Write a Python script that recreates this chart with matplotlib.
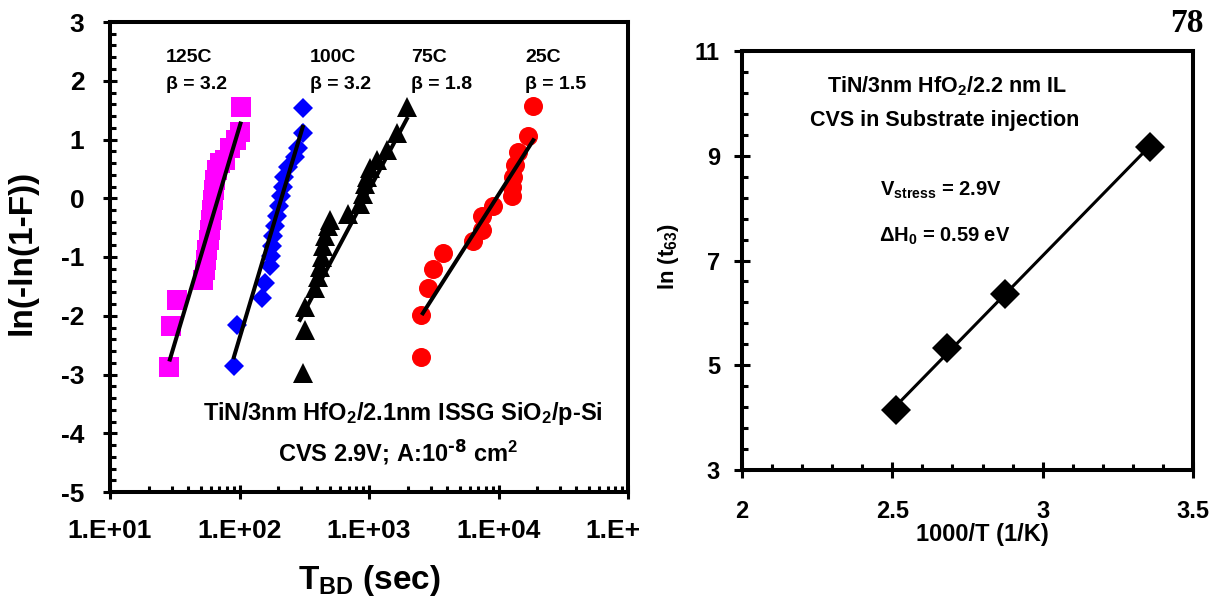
import numpy as np
import matplotlib
matplotlib.use("Agg")
import matplotlib.pyplot as plt
from matplotlib.ticker import FixedLocator, FixedFormatter, LogLocator, MultipleLocator, NullFormatter
from matplotlib.transforms import Bbox

plt.rcParams['font.family'] = ['Liberation Sans', 'DejaVu Sans']
plt.rcParams['font.weight'] = 'bold'
plt.rcParams['axes.labelweight'] = 'bold'
plt.rcParams['axes.unicode_minus'] = False
plt.rcParams['mathtext.default'] = 'regular'

# ---------------- Weibull data: time to breakdown (s) vs ln(-ln(1-F)) ----------------
t_125 = [28.6, 29.4, 33.1, 52.6, 54.2, 55.1, 56.4, 57.8, 59.2, 60.3, 61.3, 62.8,
         63.6, 65.0, 67.4, 70.7, 77.3, 84.5, 94.0, 100.9, 102.7]
w_125 = [-2.88, -2.17, -1.73, -1.39, -1.22, -1.05, -0.88, -0.71, -0.54, -0.37, -0.20, -0.03,
         0.14, 0.31, 0.48, 0.60, 0.65, 0.85, 0.99, 1.13, 1.56]

t_100 = [90.8, 96.2, 148, 157, 172, 175, 177.5, 182.5, 188, 194, 203, 210, 215, 222,
         238, 268, 285, 311, 312]
w_100 = [-2.86, -2.15, -1.70, -1.45, -1.16, -0.99, -0.82, -0.65, -0.48, -0.31, -0.14, 0.03,
         0.20, 0.37, 0.54, 0.71, 0.85, 1.11, 1.53]

t_75 = [311, 321, 322, 383, 406, 419, 432, 444, 457, 485, 500, 692, 853, 904, 931, 960,
        1018, 1146, 1371, 1637, 1954]
w_75 = [-2.98, -2.24, -1.85, -1.53, -1.34, -1.17, -1.00, -0.82, -0.65, -0.48, -0.37, -0.26,
        -0.09, 0.08, 0.25, 0.37, 0.51, 0.65, 0.82, 1.11, 1.56]

t_25 = [2506, 2520, 2871, 3141, 3750, 6383, 7413, 7500, 9120, 12650, 12700, 13000, 13400,
        14230, 17020, 18580]
w_25 = [-2.70, -1.98, -1.53, -1.21, -0.94, -0.73, -0.54, -0.31, -0.14, 0.03, 0.20, 0.37,
        0.57, 0.79, 1.06, 1.57]

temps = ["125C", "100C", "75C", "25C"]
betas = [3.2, 3.2, 1.8, 1.5]
ln_eta = [4.225, 5.35, 6.83, 9.17]          # ln of characteristic life of each fit line
fit_t_start = [28.7, 89.5, 288, 2553]
fit_t_end = [102.8, 311, 1995, 18920]

# ---------------- Arrhenius data ----------------
inv_T = [2.512, 2.683, 2.875, 3.356]        # 1000/T (1/K)
ln_t63 = [4.14, 5.33, 6.36, 9.16]

W, H = 1225, 599
fig = plt.figure(figsize=(W / 100, H / 100), dpi=100)


def px_axes(x0, y0, x1, y1):
    return fig.add_axes([x0 / W, 1 - y1 / H, (x1 - x0) / W, (y1 - y0) / H])


axL = px_axes(110, 22, 628, 492)
axR = px_axes(742, 51, 1193, 470)

# ---------------- left panel ----------------
series = [
    (t_125, w_125, 's', '#FF00FF', 14),
    (t_100, w_100, 'D', '#0000FF', 10.5),
    (t_75, w_75, '^', 'black', 15),
    (t_25, w_25, 'o', '#FF0000', 13.7),
]
for (t, w, mk, col, ms) in series:
    axL.plot(t, w, linestyle='none', marker=mk, color=col, markersize=ms,
             markeredgewidth=0, zorder=3)

for b, le, ts, te in zip(betas, ln_eta, fit_t_start, fit_t_end):
    tt = np.array([ts, te])
    axL.plot(tt, b * (np.log(tt) - le), color='black', linewidth=2.9,
             solid_capstyle='butt', zorder=4)

axL.set_xscale('log')
axL.set_xlim(10, 1e5)
axL.set_ylim(-5, 3)
axL.xaxis.set_major_locator(FixedLocator([1e1, 1e2, 1e3, 1e4, 1e5]))
axL.xaxis.set_major_formatter(FixedFormatter(["1.E+01", "1.E+02", "1.E+03", "1.E+04", "1.E+05"]))
axL.xaxis.set_minor_locator(LogLocator(base=10, subs=np.arange(2, 10), numticks=20))
axL.xaxis.set_minor_formatter(NullFormatter())
axL.yaxis.set_major_locator(MultipleLocator(1))
axL.yaxis.set_minor_locator(MultipleLocator(0.2))
axL.tick_params(which='major', direction='inout', length=10, width=2.2, labelsize=19)
axL.tick_params(axis='y', which='major', pad=13.5)
axL.tick_params(axis='x', which='major', pad=14.5)
axL.tick_params(which='minor', direction='in', length=4, width=2.2)
for s in axL.spines.values():
    s.set_linewidth(2.9)

# the last decade label runs off the panel edge
last_lbl = axL.xaxis.get_major_ticks()[-1].label1
last_lbl.set_clip_on(True)
last_lbl.set_clip_box(Bbox([[0, 0], [639, H]]))

axL.set_ylabel("ln(-ln(1-F))", fontsize=24, va='center')
axL.yaxis.set_label_coords(-0.17, 0.51)
axL.set_xlabel("T$_{BD}$ (sec)", fontsize=24, va='center')
axL.xaxis.set_label_coords(0.5, -0.189)

lbl_t = [27.1, 350, 2110, 16000]
for name, b, tx in zip(temps, betas, lbl_t):
    axL.text(tx, 2.40, name, fontsize=14, ha='left', va='center')
    axL.text(tx, 1.94, "β = %.1f" % b, fontsize=14, ha='left', va='center')

axL.text(0.566, 0.168, "TiN/3nm HfO$_2$/2.1nm ISSG SiO$_2$/p-Si", transform=axL.transAxes,
         fontsize=17, ha='center', va='center')
axL.text(0.556, 0.085, r"CVS 2.9V; A:10$^{\text{-8}}$ cm$^2$", transform=axL.transAxes,
         fontsize=17, ha='center', va='center')

# ---------------- right panel ----------------
slope, icpt = np.polyfit(inv_T, ln_t63, 1)
xl = np.array([inv_T[0], inv_T[-1]])
axR.plot(xl, slope * xl + icpt, color='black', linewidth=2.2, zorder=3)
axR.plot(inv_T, ln_t63, linestyle='none', marker='D', color='black', markersize=15.5,
         markeredgewidth=0, zorder=4)

axR.set_xlim(2, 3.5)
axR.set_ylim(3, 11)
axR.xaxis.set_major_locator(FixedLocator([2, 2.5, 3, 3.5]))
axR.xaxis.set_major_formatter(FixedFormatter(["2", "2.5", "3", "3.5"]))
axR.xaxis.set_minor_locator(MultipleLocator(0.1))
axR.yaxis.set_major_locator(FixedLocator([3, 5, 7, 9, 11]))
axR.yaxis.set_minor_locator(FixedLocator(np.arange(3.4, 11, 0.4)))
axR.tick_params(which='major', direction='inout', length=11, width=2.2, labelsize=17)
axR.tick_params(axis='y', which='major', pad=10.4)
axR.tick_params(axis='x', which='major', pad=16)
axR.tick_params(which='minor', direction='in', length=4, width=2.2)
for s in axR.spines.values():
    s.set_linewidth(2.9)

axR.set_ylabel("ln (t$_{63}$)", fontsize=16, va='center')
axR.yaxis.set_label_coords(-0.164, 0.509)
axR.set_xlabel("1000/T (1/K)", fontsize=17, va='center')
axR.xaxis.set_label_coords(0.532, -0.155)

axR.text(2.683, 10.33, "TiN/3nm HfO$_2$/2.2 nm IL", fontsize=15.5, ha='center', va='center')
axR.text(2.673, 9.67, "CVS in Substrate injection", fontsize=15.5, ha='center', va='center')
axR.text(2.66, 8.34, "V$_{stress}$ = 2.9V", fontsize=14.5, ha='center', va='center')
axR.text(2.673, 7.47, "ΔH$_0$ = 0.59 eV", fontsize=14.5, ha='center', va='center')

fig.text(1187 / W, 1 - 24 / H, "78", fontsize=24, fontweight='bold',
         family=['Liberation Serif', 'DejaVu Serif'], ha='center', va='center')

fig.savefig("out.png", dpi=100, facecolor='white')
